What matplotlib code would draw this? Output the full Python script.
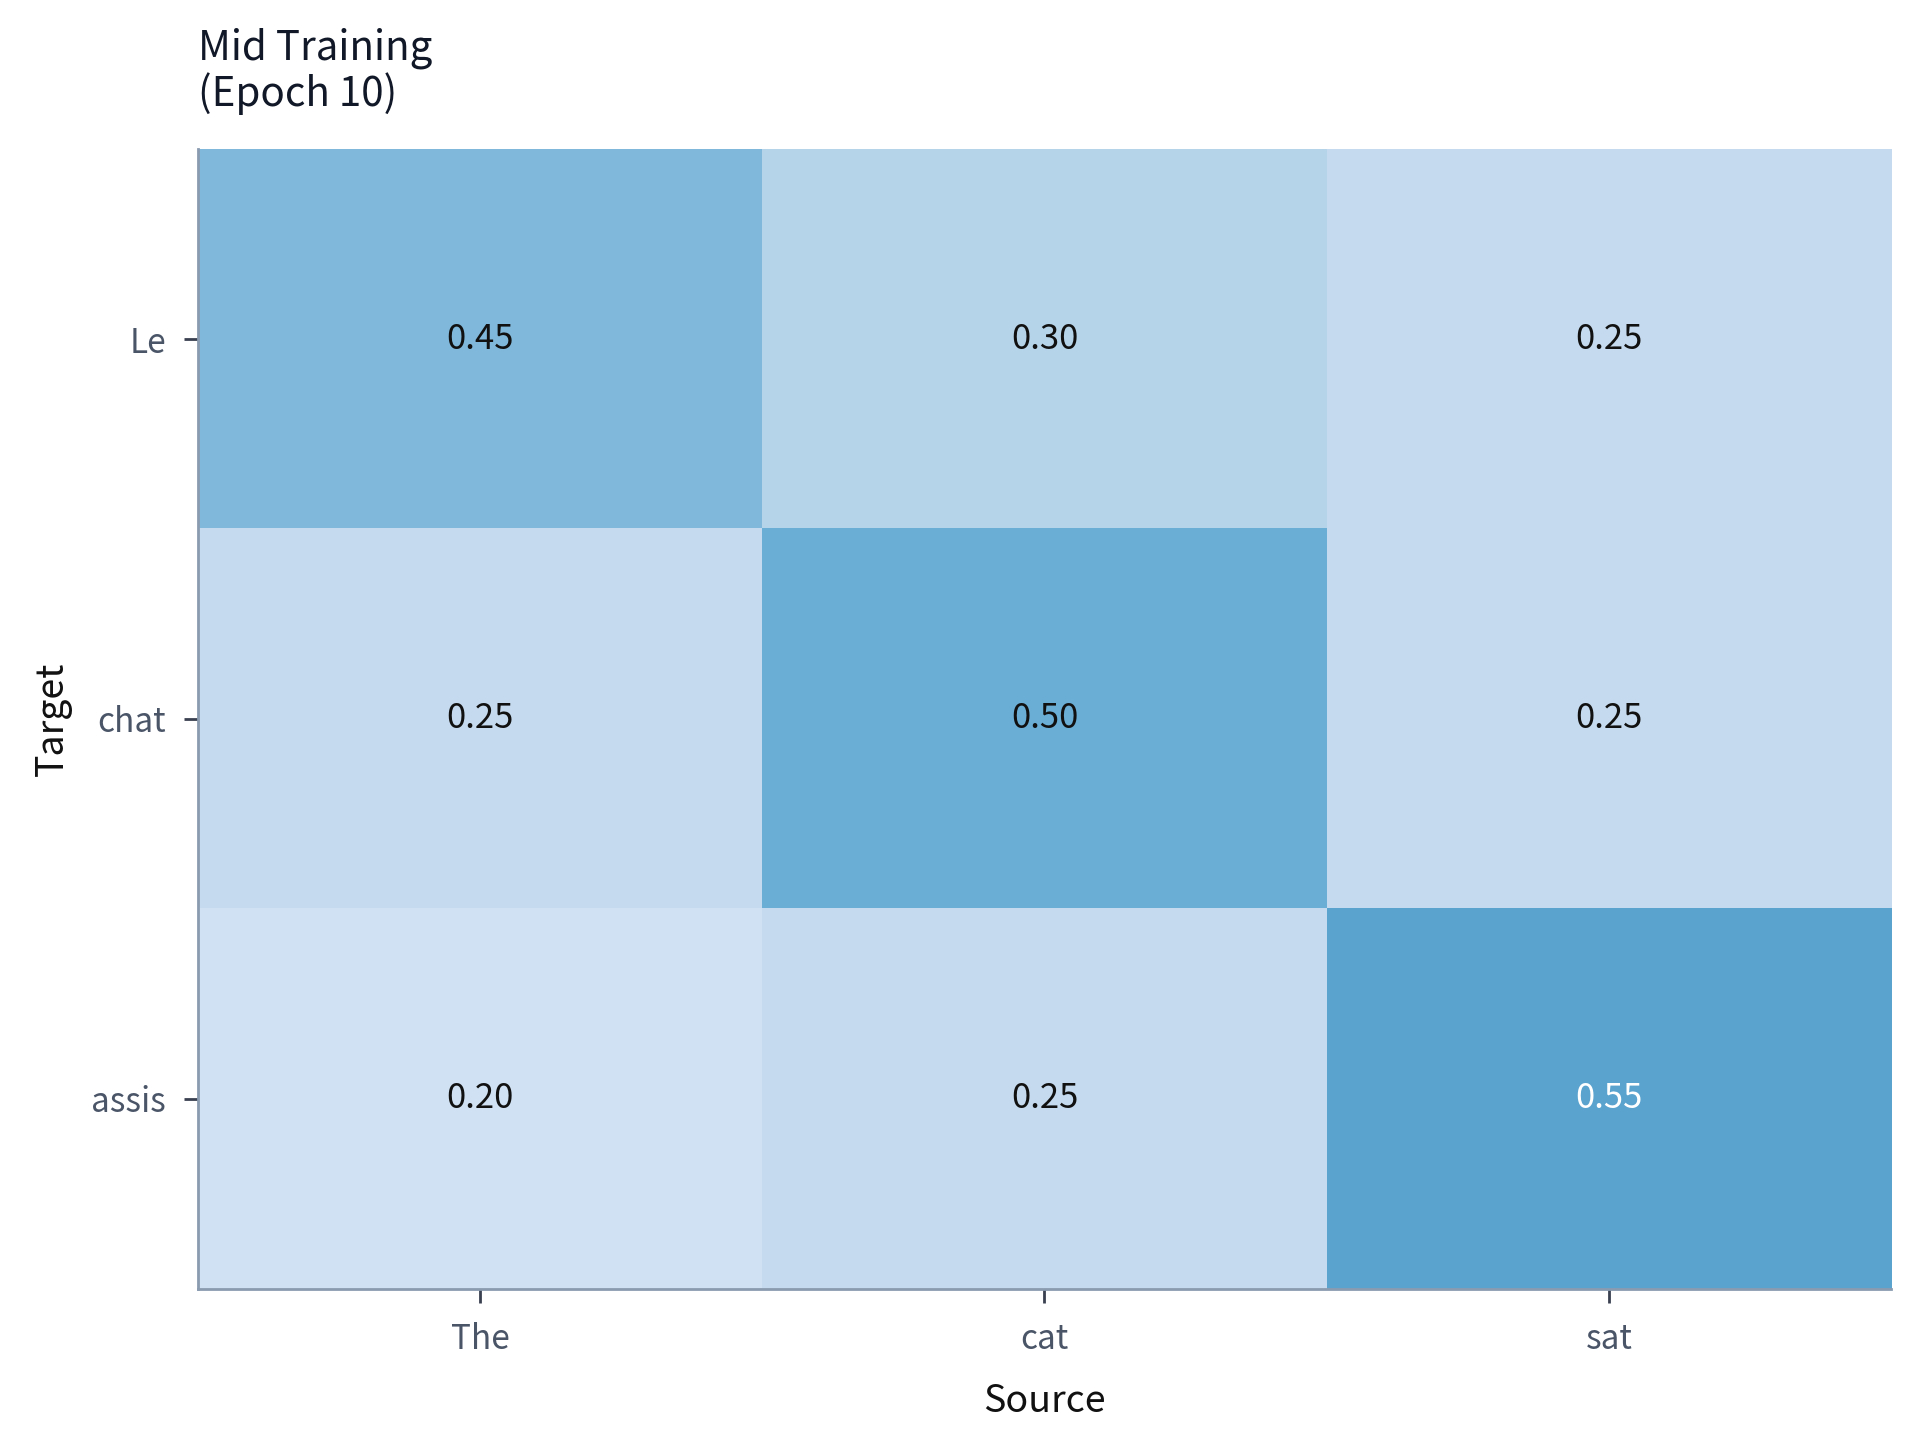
import matplotlib
matplotlib.use("Agg")
import matplotlib.pyplot as plt
import numpy as np

plt.rcParams['font.family'] = ['Noto Sans CJK KR', 'DejaVu Sans']

source_tokens = ["The", "cat", "sat"]
target_tokens = ["Le", "chat", "assis"]
row_le = [0.45, 0.30, 0.25]
row_chat = [0.25, 0.50, 0.25]
row_assis = [0.20, 0.25, 0.55]
title_text = "Mid Training\n(Epoch 10)"

values = np.array([row_le, row_chat, row_assis])

fig = plt.figure(figsize=(9.6, 7.24), dpi=200)
ax = fig.add_axes([0.103, 0.110, 0.882, 0.787])

ax.imshow(values, cmap="Blues", vmin=0, vmax=1, aspect="auto", interpolation="nearest")

for i in range(values.shape[0]):
    for j in range(values.shape[1]):
        v = values[i, j]
        ax.text(j, i, f"{v:.2f}", ha="center", va="center", fontsize=12.5,
                color="white" if v > 0.52 else "#111111")

ax.set_xticks(range(len(source_tokens)))
ax.set_xticklabels(source_tokens)
ax.set_yticks(range(len(target_tokens)))
ax.set_yticklabels(target_tokens)

spine_color = "#8a9bb0"
for s in ["top", "right"]:
    ax.spines[s].set_visible(False)
for s in ["left", "bottom"]:
    ax.spines[s].set_color(spine_color)
    ax.spines[s].set_linewidth(1.0)

ax.tick_params(axis="both", length=5, width=1.0, color="#3a4050",
               labelsize=12, labelcolor="#4a5568")
ax.tick_params(axis="x", pad=7)
ax.tick_params(axis="y", pad=6.5)

ax.set_xlabel("Source", fontsize=13.5, color="#111111", labelpad=9)
ax.set_ylabel("Target", fontsize=13.5, color="#111111", labelpad=7)
ax.set_title(title_text, loc="left", fontsize=14.5, color="#111827", pad=15.5,
             linespacing=1.1)

fig.savefig("out.png", dpi=200, facecolor="white")
